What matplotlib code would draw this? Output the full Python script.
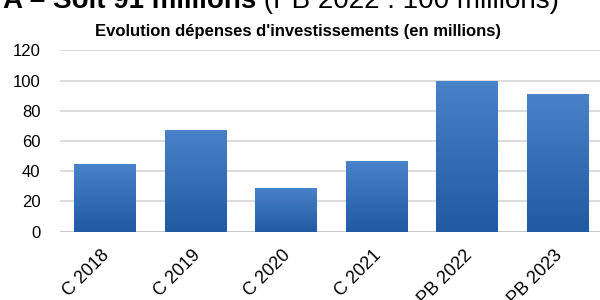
import numpy as np
import matplotlib
matplotlib.use("Agg")
import matplotlib.pyplot as plt
from matplotlib.colors import LinearSegmentedColormap
from matplotlib.transforms import ScaledTranslation

plt.rcParams['font.family'] = ['Liberation Sans', 'DejaVu Sans']

# ─── Data ─────────────────────────────────────────────────────────────────────
categories = ["C 2018", "C 2019", "C 2020", "C 2021", "PB 2022", "PB 2023"]
values     = [45, 67, 29, 47, 100, 91]
y_ticks    = [0, 20, 40, 60, 80, 100, 120]

title     = "Evolution dépenses d'investissements (en millions)"
head_bold = "A – Soit 91 millions"
head_rest = " (PB 2022 : 100 millions)"

# ─── Figure ───────────────────────────────────────────────────────────────────
fig = plt.figure(figsize=(6, 3), dpi=100)
ax = fig.add_axes([0.1, 0.228, 0.905, 0.604])

x = np.arange(len(categories))
bars = ax.bar(x, values, width=0.68, color="none", edgecolor="none", zorder=3)

# vertical gradient in each bar (light top -> darker bottom)
cmap = LinearSegmentedColormap.from_list("blu", ["#1f5aa3", "#4a82c9"])
grad = np.linspace(0, 1, 256).reshape(-1, 1)
for b in bars:
    x0, y0 = b.get_x(), b.get_y()
    w, h = b.get_width(), b.get_height()
    im = ax.imshow(grad, cmap=cmap, origin="lower", aspect="auto",
                   extent=[x0, x0 + w, y0, y0 + h], zorder=3)
    im.set_clip_path(b)

ax.set_xlim(-0.5, len(categories) - 0.5)
ax.set_ylim(0, 120)
ax.set_yticks(y_ticks)
ax.yaxis.grid(True, color="#d9d9d9", linewidth=1.3, zorder=0)
ax.set_axisbelow(True)
for s in ax.spines.values():
    s.set_visible(False)
ax.axhline(0, color="#c8c8c8", linewidth=1.5, zorder=2)

ax.tick_params(axis="both", length=0, labelsize=12, colors="#000000")
ax.tick_params(axis="y", pad=14)
ax.set_xticks(x)
ax.set_xticklabels(categories, rotation=45, ha="right", va="center",
                   rotation_mode="anchor", fontsize=13)
offset = ScaledTranslation(2 / 100, -16 / 100, fig.dpi_scale_trans)
for lab in ax.get_xticklabels():
    lab.set_transform(lab.get_transform() + offset)

fig.text(0.497, 0.895, title, ha="center", va="center",
         fontsize=12, fontweight="bold")

# heading cropped by the top edge, as in the source screenshot
t = fig.text(0.005, 1.0 - 8 / 300, head_bold, ha="left", va="baseline",
             fontsize=20, fontweight="bold")
fig.canvas.draw()
bb = t.get_window_extent()
fig.text(bb.x1 / fig.bbox.width, 1.0 - 8 / 300, head_rest, ha="left",
         va="baseline", fontsize=20)

fig.savefig("out.png", dpi=100)
